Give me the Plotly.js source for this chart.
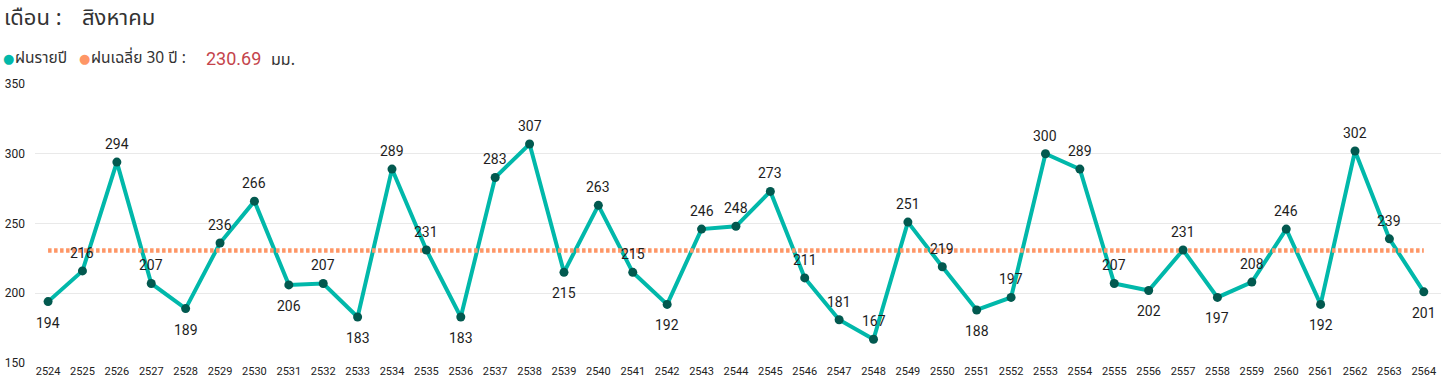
<!DOCTYPE html>
<html>
<head>
<meta charset="utf-8">
<script src="https://cdn.plot.ly/plotly-3.0.1.min.js"></script>
<style>html,body{margin:0;padding:0;background:#fff;}#chart{width:1441px;height:390px;}</style>
</head>
<body>
<div id="chart"></div>
<script>
// ---- data ----
const years = ["2524","2525","2526","2527","2528","2529","2530","2531","2532","2533","2534","2535","2536","2537","2538","2539","2540","2541","2542","2543","2544","2545","2546","2547","2548","2549","2550","2551","2552","2553","2554","2555","2556","2557","2558","2559","2560","2561","2562","2563","2564"];
const rainfall = [194,216,294,207,189,236,266,206,207,183,289,231,183,283,307,215,263,215,192,246,248,273,211,181,167,251,219,188,197,300,289,207,202,231,197,208,246,192,302,239,201];
const avg30 = 230.69;
const monthLabel = "สิงหาคม";
const yTicks = [150,200,250,300,350];
// label placement (above / below), as in the reference
const labelSide = ["b","t","t","t","b","t","t","b","t","b","t","t","b","t","t","b","t","t","b","t","t","t","t","t","t","t","t","b","t","t","t","t","b","t","b","t","t","b","t","t","b"];

// ---- layout helpers ----
const W = 1441, H = 390, ML = 35, MR = 0, MT = 84, MB = 27;
const PW = W - ML - MR, PH = H - MT - MB;
const px = p => (p - ML) / PW;
const py = p => (H - MB - p) / PH;

const avgLine = years.map(() => avg30);

const traces = [
  {
    x: years, y: rainfall, type: 'scatter', mode: 'lines',
    line: {color: '#01B8AA', width: 4},
    showlegend: false
  },
  {
    x: years, y: avgLine, type: 'scatter', mode: 'lines',
    line: {color: '#FE9666', width: 4.5, dash: '3.5px,2.5px'},
    hoverinfo: 'skip', showlegend: false
  },
  {
    x: years, y: rainfall, type: 'scatter', mode: 'markers',
    marker: {color: '#02594F', size: 9},
    showlegend: false
  }
];

const TF = '"Noto Sans Thai", "Noto Sans", Roboto, sans-serif';
const ann = (x, y, text, size, color, family) => ({
  xref: 'paper', yref: 'paper', x: px(x), y: py(y), xanchor: 'left', yanchor: 'middle',
  text: text, showarrow: false, font: {size: size, color: color, family: family || TF}
});

const dataLabels = years.map((yr, i) => ({
  xref: 'x', yref: 'y', x: i, y: rainfall[i],
  text: String(rainfall[i]), showarrow: false,
  xanchor: 'center', yanchor: 'middle',
  yshift: labelSide[i] === 't' ? 18 : -21,
  font: {family: 'Roboto, sans-serif', size: 14, color: '#1E1E1E'}
}));

const layout = {
  width: W, height: H,
  margin: {l: ML, r: MR, t: MT, b: MB},
  paper_bgcolor: '#ffffff', plot_bgcolor: '#ffffff',
  showlegend: false,
  xaxis: {
    type: 'category', range: [-0.38, 40.5],
    showgrid: false, zeroline: false, showline: false, ticks: '',
    tickfont: {family: 'Roboto, sans-serif', size: 11, color: '#222222'},
    fixedrange: true
  },
  yaxis: {
    range: [150, 350], tickvals: yTicks, ticktext: yTicks.map(String),
    showgrid: true, gridcolor: '#E9E9E9', gridwidth: 1,
    zeroline: false, showline: false, ticks: '',
    ticklabelstandoff: 9,
    tickfont: {family: 'Roboto, sans-serif', size: 12, color: '#222222'},
    fixedrange: true
  },
  annotations: [
    ann(2, 19, 'เดือน :', 22, '#333333'),
    ann(80, 19, monthLabel, 22, '#333333'),
    ann(1, 59, '●', 13, '#01B8AA', 'DejaVu Sans'),
    ann(13, 59, 'ฝนรายปี', 15.5, '#333333'),
    ann(77, 59, '●', 13, '#FE9666', 'DejaVu Sans'),
    ann(89, 59, 'ฝนเฉลี่ย 30 ปี :', 15.5, '#333333'),
    ann(204, 58, avg30.toFixed(2), 18, '#C4444C', 'Roboto, sans-serif'),
    ann(269, 60, 'มม.', 16, '#333333')
  ].concat(dataLabels)
};

Plotly.newPlot('chart', traces, layout, {displayModeBar: false, staticPlot: true});
</script>
</body>
</html>
